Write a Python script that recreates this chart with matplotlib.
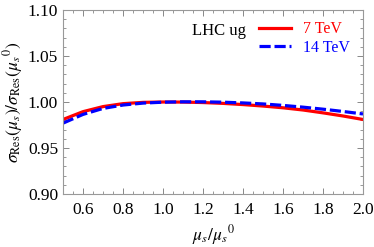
import numpy as np
import matplotlib.pyplot as plt
from matplotlib.ticker import MultipleLocator

plt.rcParams['font.family'] = 'Liberation Serif'
plt.rcParams['mathtext.fontset'] = 'stix'

# scale ratio mu_s / mu_s^0
mu = [0.5, 0.6, 0.7, 0.8, 0.9, 1.0, 1.1, 1.2, 1.3, 1.4, 1.5, 1.6, 1.7, 1.8, 1.9, 2.0]
# ratio for 7 TeV and 14 TeV
r7 = [0.981, 0.9895, 0.9950, 0.9982, 0.9996, 1.0000, 0.9999, 0.9994, 0.9985, 0.9972, 0.9956, 0.9937, 0.9913, 0.9882, 0.9848, 0.9810]
r14 = [0.977, 0.9865, 0.9930, 0.9967, 0.9988, 0.9998, 1.0002, 1.0002, 0.9998, 0.9990, 0.9979, 0.9963, 0.9944, 0.9922, 0.9897, 0.9870]

fig = plt.figure(figsize=(3.74, 2.47), dpi=100)
ax = fig.add_axes([63/374, 53/247, 300/374, 184/247])

ax.plot(mu, r7, color='#ff0000', lw=2.3, label='7 TeV')
ax.plot(mu, r14, color='#0000ff', lw=2.3, ls=(0, (3.5, 1.2)), label='14 TeV')

ax.set_xlim(0.5, 2.0)
ax.set_ylim(0.90, 1.10)
ax.xaxis.set_minor_locator(MultipleLocator(0.05))
ax.yaxis.set_minor_locator(MultipleLocator(0.01))
ax.set_xticks([0.6, 0.8, 1.0, 1.2, 1.4, 1.6, 1.8, 2.0])
ax.set_xticklabels(['0.6', '0.8', '1.0', '1.2', '1.4', '1.6', '1.8', '2.0'])
yt = [0.90, 0.95, 1.00, 1.05, 1.10]
ax.set_yticks(yt)
ax.set_yticklabels(['%.2f' % v for v in yt])

ax.tick_params(which='both', direction='in', top=True, right=True, color='#888888', labelsize=12.5)
ax.tick_params(which='major', length=4, width=0.7)
ax.tick_params(axis='x', which='major', pad=6)
ax.tick_params(which='minor', length=2, width=0.6)
for s in ax.spines.values():
    s.set_color('#999999')
    s.set_linewidth(0.8)

ax.set_xlabel(r'$\mu_s/\mu_s{}^0$', fontsize=12.5, labelpad=3)
ax.set_ylabel(r'$\sigma_{\rm Res}(\mu_s)/\sigma_{\rm Res}(\mu_s{}^0)$', fontsize=12.5, labelpad=2)

ax.text(0.43, 0.885, 'LHC ug', transform=ax.transAxes, fontsize=12, va='center')
leg = ax.legend(loc='upper right', frameon=False, fontsize=11.5, handlelength=2.0,
                bbox_to_anchor=(0.995, 1.0), borderaxespad=0.3,
                labelspacing=0.15, handletextpad=0.8)
for t, c in zip(leg.get_texts(), ['#ff0000', '#0000ff']):
    t.set_color(c)

fig.savefig('out.png', dpi=100)
